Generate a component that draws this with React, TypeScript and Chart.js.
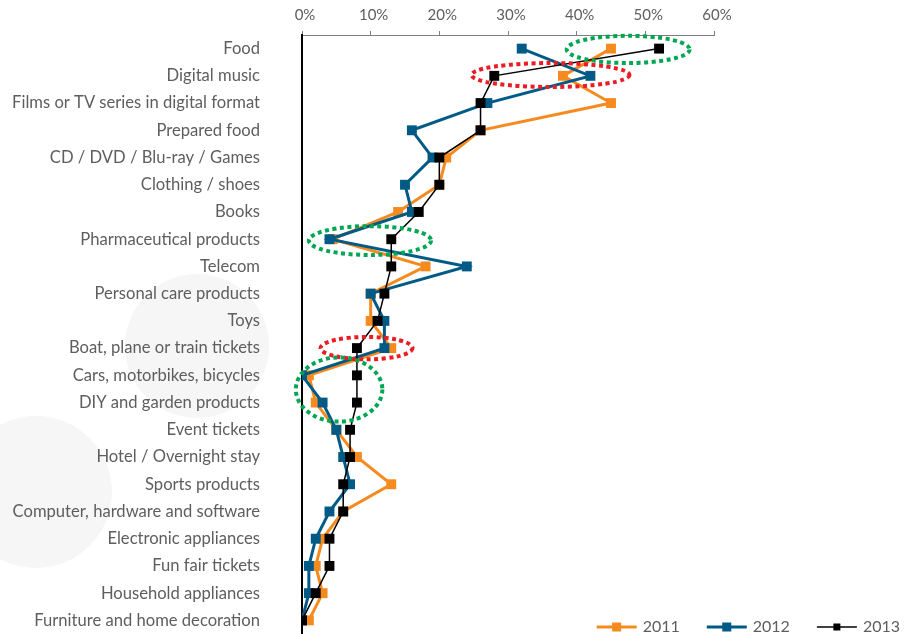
import React, { useEffect, useRef } from "react";
import { Chart, registerables } from "chart.js";

Chart.register(...registerables);

// Product categories, top to bottom
const categories = [
  "Food",
  "Digital music",
  "Films or TV series in digital format",
  "Prepared food",
  "CD / DVD / Blu-ray / Games",
  "Clothing / shoes",
  "Books",
  "Pharmaceutical products",
  "Telecom",
  "Personal care products",
  "Toys",
  "Boat, plane or train tickets",
  "Cars, motorbikes, bicycles",
  "DIY and garden products",
  "Event tickets",
  "Hotel / Overnight stay",
  "Sports products",
  "Computer, hardware and software",
  "Electronic appliances",
  "Fun fair tickets",
  "Household appliances",
  "Furniture and home decoration",
];

// Share of online shoppers per category (%)
const values2011 = [45, 38, 45, 26, 21, 20, 14, 4.5, 18, 10, 10, 13, 1, 2, 5, 8, 13, 6, 3, 2, 3, 1];
const values2012 = [32, 42, 27, 16, 19, 15, 16, 4, 24, 10, 12, 12, 0, 3, 5, 6, 7, 4, 2, 1, 1, 0];
const values2013 = [52, 28, 26, 26, 20, 20, 17, 13, 13, 12, 11, 8, 8, 8, 7, 7, 6, 6, 4, 4, 2, 0];

const seriesLabels = ["2011", "2012", "2013"];

// Axis range and step (%)
const xMin = 0;
const xMax = 60;
const xStep = 10;

// Highlight rings: centre value (%), category index, half-width (%), half-height (rows)
const ringCentres = [47.5, 36.2, 9.9, 9.4, 5.4];
const ringRows = [0.03, 0.97, 7.05, 11.0, 12.52];
const ringHalfWidths = [8.95, 11.5, 8.9, 6.7, 6.3];
const ringHalfHeights = [0.5, 0.44, 0.53, 0.41, 1.18];
const ringKinds = ["up", "down", "up", "down", "up"];

const ORANGE = "#f58b1f";
const BLUE = "#005a86";
const BLACK = "#000000";
const GREEN = "#00a651";
const RED = "#ec1c24";
const TEXT = "#5e5e5e";
const FONT = "Lato, 'Open Sans', sans-serif";

const backdropPlugin = {
  id: "backdropCircles",
  beforeDraw(chart: any) {
    const ctx = chart.ctx;
    ctx.save();
    ctx.fillStyle = "#f6f6f6";
    ctx.beginPath();
    ctx.arc(197, 346, 72, 0, Math.PI * 2);
    ctx.fill();
    ctx.beginPath();
    ctx.arc(36, 492, 76, 0, Math.PI * 2);
    ctx.fill();
    ctx.restore();
  },
};

const ringPlugin = {
  id: "highlightRings",
  afterDatasetsDraw(chart: any) {
    const { ctx, scales } = chart;
    const xs = scales.x;
    const ys = scales.y;
    const rowH = ys.getPixelForValue(1) - ys.getPixelForValue(0);
    ctx.save();
    ctx.lineWidth = 4;
    ctx.setLineDash([4, 3.5]);
    ringCentres.forEach((cx, i) => {
      const px = xs.getPixelForValue(cx);
      const py = ys.getPixelForValue(0) + ringRows[i] * rowH;
      const rx = xs.getPixelForValue(cx + ringHalfWidths[i]) - px;
      const ry = ringHalfHeights[i] * rowH;
      ctx.strokeStyle = ringKinds[i] === "up" ? GREEN : RED;
      ctx.beginPath();
      ctx.ellipse(px, py, rx, ry, 0, 0, Math.PI * 2);
      ctx.stroke();
    });
    ctx.restore();
  },
};

const keyPlugin = {
  id: "seriesKey",
  afterDraw(chart: any) {
    const ctx = chart.ctx;
    const datasets = chart.data.datasets;
    ctx.save();
    ctx.font = `16px ${FONT}`;
    ctx.textBaseline = "middle";
    ctx.textAlign = "left";
    const y = 627;
    let right = chart.width - 8;
    for (let i = datasets.length - 1; i >= 0; i--) {
      const ds = datasets[i];
      const tw = ctx.measureText(ds.label).width;
      const textX = right - tw;
      const lineEnd = textX - 6;
      const lineStart = lineEnd - 40;
      ctx.fillStyle = TEXT;
      ctx.fillText(ds.label, textX, y);
      ctx.strokeStyle = ds.borderColor;
      ctx.lineWidth = ds.borderWidth;
      ctx.beginPath();
      ctx.moveTo(lineStart, y);
      ctx.lineTo(lineEnd, y);
      ctx.stroke();
      const s = ds.borderWidth > 2 ? 9 : 7;
      ctx.fillStyle = ds.borderColor;
      ctx.fillRect((lineStart + lineEnd) / 2 - s / 2, y - s / 2, s, s);
      right = lineStart - 27;
    }
    ctx.restore();
  },
};

export default function App() {
  const canvasRef = useRef<HTMLCanvasElement | null>(null);

  useEffect(() => {
    document.body.style.margin = "0";
    document.body.style.overflow = "hidden";
    const canvas = canvasRef.current;
    if (!canvas) return;

    const chart = new Chart(canvas, {
      type: "line",
      data: {
        labels: categories,
        datasets: [
          {
            label: seriesLabels[0],
            data: values2011,
            borderColor: ORANGE,
            backgroundColor: ORANGE,
            borderWidth: 3,
            pointStyle: "rect",
            pointRadius: 7,
            pointBorderWidth: 0,
            pointBackgroundColor: ORANGE,
            order: 3,
          },
          {
            label: seriesLabels[1],
            data: values2012,
            borderColor: BLUE,
            backgroundColor: BLUE,
            borderWidth: 3,
            pointStyle: "rect",
            pointRadius: 7,
            pointBorderWidth: 0,
            pointBackgroundColor: BLUE,
            order: 2,
          },
          {
            label: seriesLabels[2],
            data: values2013,
            borderColor: BLACK,
            backgroundColor: BLACK,
            borderWidth: 1.5,
            pointStyle: "rect",
            pointRadius: 7,
            pointBorderWidth: 0,
            pointBackgroundColor: BLACK,
            order: 1,
          },
        ],
      },
      options: {
        indexAxis: "y",
        animation: false,
        responsive: true,
        maintainAspectRatio: false,
        events: [],
        layout: { autoPadding: false, padding: { left: 0, right: 194, top: 0, bottom: 0 } },
        plugins: {
          legend: { display: false },
          tooltip: { enabled: false },
        },
        scales: {
          x: {
            type: "linear",
            position: "top",
            min: xMin,
            max: xMax,
            ticks: {
              stepSize: xStep,
              callback: (v: any) => `${v}%`,
              color: TEXT,
              font: { family: FONT, size: 15 },
              padding: 7,
              labelOffset: 3,
              maxRotation: 0,
            },
            grid: {
              drawOnChartArea: false,
              drawTicks: true,
              tickLength: 4,
              color: "#7f7f7f",
              lineWidth: 1,
            },
            border: { display: true, color: "#7f7f7f", width: 1 },
            afterFit: (s: any) => {
              s.height = 35;
              s.paddingLeft = 0;
              s.paddingRight = 0;
            },
          },
          y: {
            type: "category",
            offset: true,
            ticks: {
              color: TEXT,
              font: { family: FONT, size: 16.6 },
              padding: 42,
              autoSkip: false,
            },
            grid: { drawOnChartArea: false, drawTicks: false },
            border: { display: true, color: "#000000", width: 2 },
            afterFit: (s: any) => {
              s.width = 302;
              s.paddingTop = 0;
              s.paddingBottom = 0;
            },
          },
        },
      },
      plugins: [backdropPlugin, ringPlugin, keyPlugin],
    });

    return () => chart.destroy();
  }, []);

  return (
    <div style={{ width: 908, height: 634, position: "relative" }}>
      <canvas ref={canvasRef} />
    </div>
  );
}
